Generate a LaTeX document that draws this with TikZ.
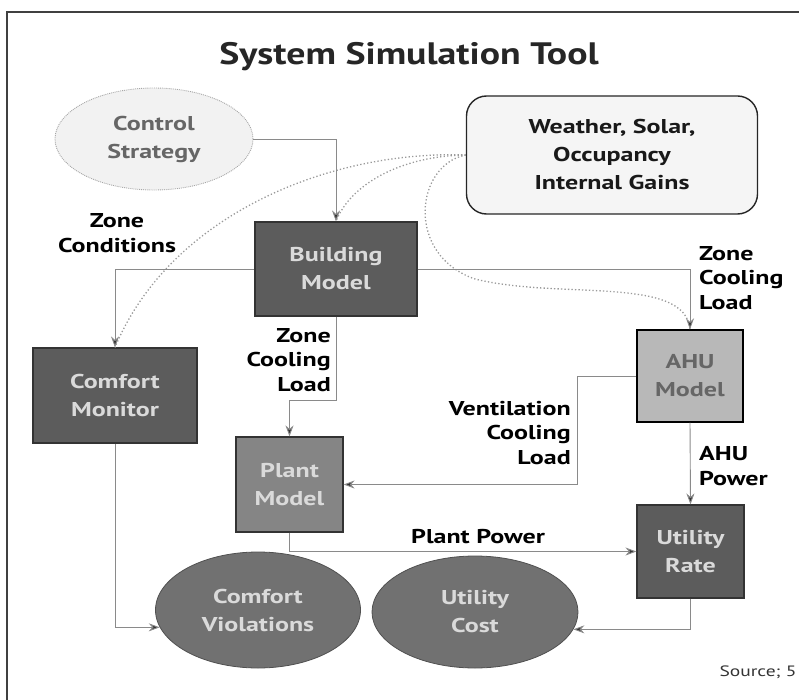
\documentclass[tikz,border=0pt]{standalone}
\usepackage{fontspec}
\setmainfont{PT Sans}[FakeStretch=1.3]
\newfontfamily\titlefont{PT Sans}[FakeStretch=1.22]
\usetikzlibrary{arrows.meta,shapes.geometric}

\definecolor{boxdark}{HTML}{5C5C5C}
\definecolor{boxmid}{HTML}{858585}
\definecolor{boxlight}{HTML}{B8B8B8}
\definecolor{linegray}{HTML}{8A8A8A}
\definecolor{dotgray}{HTML}{9A9A9A}
\definecolor{textlight}{HTML}{DADADA}

\tikzset{
  txt/.style={font=\fontsize{20}{28}\selectfont\bfseries, align=center},
  lbl/.style={font=\fontsize{20}{24.5}\selectfont\bfseries, inner sep=0pt},
  darkbox/.style={txt, rectangle, fill=boxdark, draw=black!80, line width=1.2pt, text=textlight},
  midbox/.style={txt, rectangle, fill=boxmid, draw=black!80, line width=1.2pt, text=textlight},
  lightbox/.style={txt, rectangle, fill=boxlight, draw=black, line width=1.4pt, text=black!60},
  oval/.style={txt, ellipse, fill=boxmid!85!black, draw=boxmid!60!black, line width=0.8pt, text=textlight, inner sep=0pt},
  conn/.style={draw=linegray, line width=0.9pt, -{Stealth[length=11pt, width=8pt, fill=black!80]}},
  dots/.style={draw=dotgray, line width=1.3pt, dash pattern=on 1.3pt off 2.2pt}
}

\begin{document}
\begin{tikzpicture}[x=1pt, y=-1pt]
\useasboundingbox (0,0) rectangle (799,700);

% outer frame (left and top edges)
\draw[black!75, line width=1.3pt] (7,700) -- (7,12) -- (799,12);

% title
\node[font=\titlefont\fontsize{31}{36}\selectfont\bfseries, text=black!85] (title) at (409,57) {System Simulation Tool};

% inputs
\node[txt, ellipse, minimum width=198pt, minimum height=102pt, inner sep=0pt,
      fill=black!5, draw=black!35, densely dotted, line width=0.9pt, text=black!60] (ctrl) at (154,139) {Control\\Strategy};
\node[txt, rectangle, rounded corners=20pt, minimum width=291pt, minimum height=118pt,
      fill=black!4, draw=black!85, line width=1.4pt, text=black!90] (wx) at (612,155) {Weather, Solar,\\Occupancy\\Internal Gains};

% model blocks
\node[darkbox, minimum width=162pt, minimum height=94pt] (bld) at (336,269) {Building\\Model};
\node[darkbox, minimum width=164pt, minimum height=95pt] (cm) at (115,395.5) {Comfort\\Monitor};
\node[midbox, minimum width=107pt, minimum height=95pt] (plant) at (289.5,484.5) {Plant\\Model};
\node[lightbox, minimum width=106pt, minimum height=92pt] (ahu) at (690,376) {AHU\\Model};
\node[darkbox, minimum width=107pt, minimum height=93pt] (ut) at (690.5,551.5) {Utility\\Rate};

% outputs
\node[oval, minimum width=205pt, minimum height=116pt] (viol) at (258,610) {Comfort\\Violations};
\node[oval, minimum width=206pt, minimum height=112pt] (cost) at (475,612) {Utility\\Cost};

% dotted influences from the weather block
\draw[dots] (wx.west) .. controls (330,150) and (170,215) .. (cm.north);
\draw[dots] (wx.west) .. controls (400,156) and (350,185) .. (bld.north);
\draw[dots] (wx.west) .. controls (415,165) and (405,255) .. (475,279)
            .. controls (560,300) and (685,275) .. (ahu.north);

% solid data flows
\draw[conn] (ctrl.east) -| (bld.north);
\draw[conn] (bld.west) -| (cm.north);
\draw[conn] (bld.east) -| (ahu.north);
\draw[conn] (bld.south) -- ++(0,84) -| (plant.north);
\draw[conn] (ahu.west) -- ++(-59,0) |- (plant.east);
\draw[conn] (ahu.south) -- (ut.north);
\draw[conn] (plant.south) |- (ut.west);
\draw[conn] (cm.south) |- (viol.190);
\draw[conn] (ut.south) |- (cost.-10);

% flow labels
\node[lbl, align=center] (zc) at (117,233) {Zone\\Conditions};
\node[lbl, align=right, anchor=east] (zcl1) at (331,360) {Zone\\Cooling\\Load};
\node[lbl, align=left, anchor=west] (zcl2) at (699,278) {Zone\\Cooling\\Load};
\node[lbl, align=right, anchor=east] (vcl) at (571,433) {Ventilation\\Cooling\\Load};
\node[lbl, align=left, anchor=west] (ahup) at (699,466) {AHU\\Power};
\node[lbl] (pp) at (478,537) {Plant Power};

% source note
\node[font=\fontsize{15}{17}\selectfont, text=black!80] (src) at (758,672) {Source; 5};
\end{tikzpicture}
\end{document}
